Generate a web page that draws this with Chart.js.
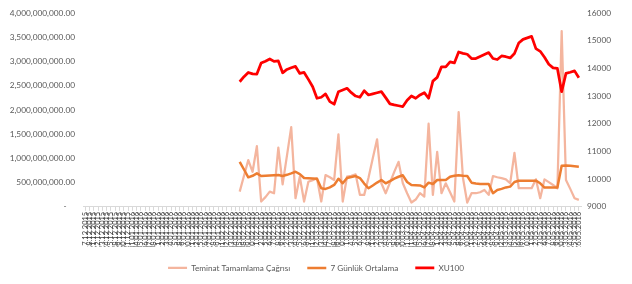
<!DOCTYPE html>
<html>
<head>
<meta charset="utf-8">
<script src="https://cdn.jsdelivr.net/npm/chart.js@4.4.0/dist/chart.umd.min.js"></script>
<style>
  html, body { margin: 0; padding: 0; background: #fff; }
</style>
</head>
<body>
<canvas id="myChart" width="632" height="284"></canvas>
<script>
// business days, 17.12.2015 - 26.05.2016
const dates = [
  "17.12.2015","18.12.2015","21.12.2015","22.12.2015","23.12.2015","24.12.2015","25.12.2015","28.12.2015","29.12.2015","30.12.2015","31.12.2015",
  "01.01.2016","04.01.2016","05.01.2016","06.01.2016","07.01.2016","08.01.2016","11.01.2016","12.01.2016","13.01.2016","14.01.2016","15.01.2016",
  "18.01.2016","19.01.2016","20.01.2016","21.01.2016","22.01.2016","25.01.2016","26.01.2016","27.01.2016","28.01.2016","29.01.2016",
  "01.02.2016","02.02.2016","03.02.2016","04.02.2016","05.02.2016","08.02.2016","09.02.2016","10.02.2016","11.02.2016","12.02.2016",
  "15.02.2016","16.02.2016","17.02.2016","18.02.2016","19.02.2016","22.02.2016","23.02.2016","24.02.2016","25.02.2016","26.02.2016","29.02.2016",
  "01.03.2016","02.03.2016","03.03.2016","04.03.2016","07.03.2016","08.03.2016","09.03.2016","10.03.2016","11.03.2016","14.03.2016","15.03.2016",
  "16.03.2016","17.03.2016","18.03.2016","21.03.2016","22.03.2016","23.03.2016","24.03.2016","25.03.2016","28.03.2016","29.03.2016","30.03.2016","31.03.2016",
  "01.04.2016","04.04.2016","05.04.2016","06.04.2016","07.04.2016","08.04.2016","11.04.2016","12.04.2016","13.04.2016","14.04.2016","15.04.2016",
  "18.04.2016","19.04.2016","20.04.2016","21.04.2016","22.04.2016","25.04.2016","26.04.2016","27.04.2016","28.04.2016","29.04.2016",
  "02.05.2016","03.05.2016","04.05.2016","05.05.2016","06.05.2016","09.05.2016","10.05.2016","11.05.2016","12.05.2016","13.05.2016",
  "16.05.2016","17.05.2016","18.05.2016","19.05.2016","20.05.2016","23.05.2016","24.05.2016","25.05.2016","26.05.2016"
];

// series start on 05.02.2016
const teminat = [
  314e6, 640e6, 963e6, 723e6, 1250e6, 109e6, 200e6, 314e6, 280e6, 1223e6,
  465e6, 1050e6, 1645e6, 178e6, 621e6, 109e6, 518e6, 550e6, 588e6, 109e6,
  656e6, 610e6, 553e6, 1496e6, 109e6, 621e6, 640e6, 670e6, 246e6, 246e6,
  600e6, 1000e6, 1393e6, 485e6, 280e6, 500e6, 720e6, 928e6, 485e6, 280e6,
  88e6, 150e6, 280e6, 211e6, 1715e6, 246e6, 1133e6, 280e6, 485e6, 300e6,
  109e6, 1953e6, 600e6, 88e6, 280e6, 280e6, 300e6, 348e6, 246e6, 635e6,
  610e6, 590e6, 567e6, 485e6, 1112e6, 383e6, 383e6, 383e6, 383e6, 567e6,
  178e6, 567e6, 510e6, 451e6, 383e6, 3627e6, 553e6, 370e6, 178e6, 143e6
];
const ortalama = [
  928e6, 770e6, 608e6, 640e6, 690e6, 635e6, 640e6, 645e6, 650e6, 656e6,
  635e6, 660e6, 690e6, 723e6, 676e6, 594e6, 590e6, 585e6, 580e6, 383e6,
  369e6, 400e6, 451e6, 580e6, 485e6, 594e6, 615e6, 635e6, 594e6, 480e6,
  383e6, 440e6, 500e6, 553e6, 485e6, 530e6, 580e6, 620e6, 650e6, 512e6,
  451e6, 445e6, 440e6, 400e6, 498e6, 471e6, 553e6, 553e6, 553e6, 621e6,
  640e6, 650e6, 640e6, 635e6, 498e6, 480e6, 471e6, 471e6, 471e6, 281e6,
  348e6, 370e6, 400e6, 416e6, 512e6, 539e6, 539e6, 539e6, 539e6, 539e6,
  485e6, 396e6, 396e6, 396e6, 396e6, 846e6, 854e6, 845e6, 835e6, 826e6
];
const xu100 = [
  13516, 13700, 13853, 13800, 13792, 14190, 14260, 14340, 14250, 14269,
  13839, 13961, 14020, 14070, 13817, 13853, 13602, 13337, 12921, 12957,
  13075, 12800, 12706, 13158, 13220, 13280, 13122, 13000, 12957, 13194,
  13039, 13080, 13120, 13158, 12943, 12717, 12680, 12650, 12620, 12850,
  13004, 12921, 13039, 13122, 12921, 13540, 13674, 14054, 14054, 14233,
  14197, 14591, 14540, 14509, 14355, 14355, 14430, 14500, 14570, 14355,
  14319, 14448, 14420, 14376, 14534, 14914, 15047, 15100, 15154, 14713,
  14616, 14400, 14151, 14018, 13996, 13158, 13817, 13860, 13910, 13659
];

const lead = dates.length - xu100.length;
const pad = arr => new Array(lead).fill(null).concat(arr);

const font = "Lato, 'Open Sans', sans-serif";
const textColor = '#595959';

const data = {
  labels: dates,
  datasets: [{
    label: 'Teminat Tamamlama Çağrısı',
    data: pad(teminat),
    borderColor: '#F4B59E',
    backgroundColor: '#F4B59E',
    borderWidth: 2.25,
    yAxisID: 'y',
    order: 3
  }, {
    label: '7 Günlük Ortalama',
    data: pad(ortalama),
    borderColor: '#ED7D31',
    backgroundColor: '#ED7D31',
    borderWidth: 2.5,
    yAxisID: 'y',
    order: 2
  }, {
    label: 'XU100',
    data: pad(xu100),
    borderColor: '#FF0000',
    backgroundColor: '#FF0000',
    borderWidth: 2.75,
    yAxisID: 'y1',
    order: 1
  }]
};

const config = {
  type: 'line',
  data: data,
  options: {
    responsive: false,
    animation: false,
    devicePixelRatio: 1,
    layout: { padding: { top: 12, bottom: 2, left: 0, right: 0 } },
    elements: { point: { radius: 0 }, line: { tension: 0, borderJoinStyle: 'round' } },
    plugins: {
      tooltip: { enabled: false },
      legend: {
        position: 'bottom',
        labels: {
          usePointStyle: true,
          pointStyle: 'line',
          pointStyleWidth: 19,
          padding: 17,
          color: textColor,
          font: { family: font, size: 8.2 },
          sort: (a, b) => a.datasetIndex - b.datasetIndex
        }
      }
    },
    scales: {
      x: {
        offset: true,
        grid: { display: true, drawOnChartArea: false, color: '#D9D9D9', tickLength: 4 },
        border: { display: true, color: '#D9D9D9' },
        ticks: {
          autoSkip: false, minRotation: 90, maxRotation: 90, padding: 1,
          color: '#404040', font: { family: font, size: 7.5 }
        },
        afterFit: s => { s.height = 40; }
      },
      y: {
        position: 'left',
        min: 0, max: 4e9,
        grid: { display: false, drawTicks: false },
        border: { display: false },
        ticks: {
          stepSize: 5e8, padding: 8, color: textColor,
          font: { family: font, size: 8.3 },
          callback: v => v === 0 ? '-    ' : v.toLocaleString('en-US', { minimumFractionDigits: 2, maximumFractionDigits: 2 })
        },
        afterFit: s => { s.width = 83; }
      },
      y1: {
        position: 'right',
        min: 9000, max: 16000,
        grid: { display: false, drawTicks: false },
        border: { display: false },
        ticks: {
          stepSize: 1000, padding: 6, color: textColor,
          font: { family: font, size: 8.3 },
          callback: v => String(v)
        },
        afterFit: s => { s.width = 51; }
      }
    }
  }
};

const myChart = new Chart(document.getElementById('myChart'), config);
</script>
</body>
</html>
